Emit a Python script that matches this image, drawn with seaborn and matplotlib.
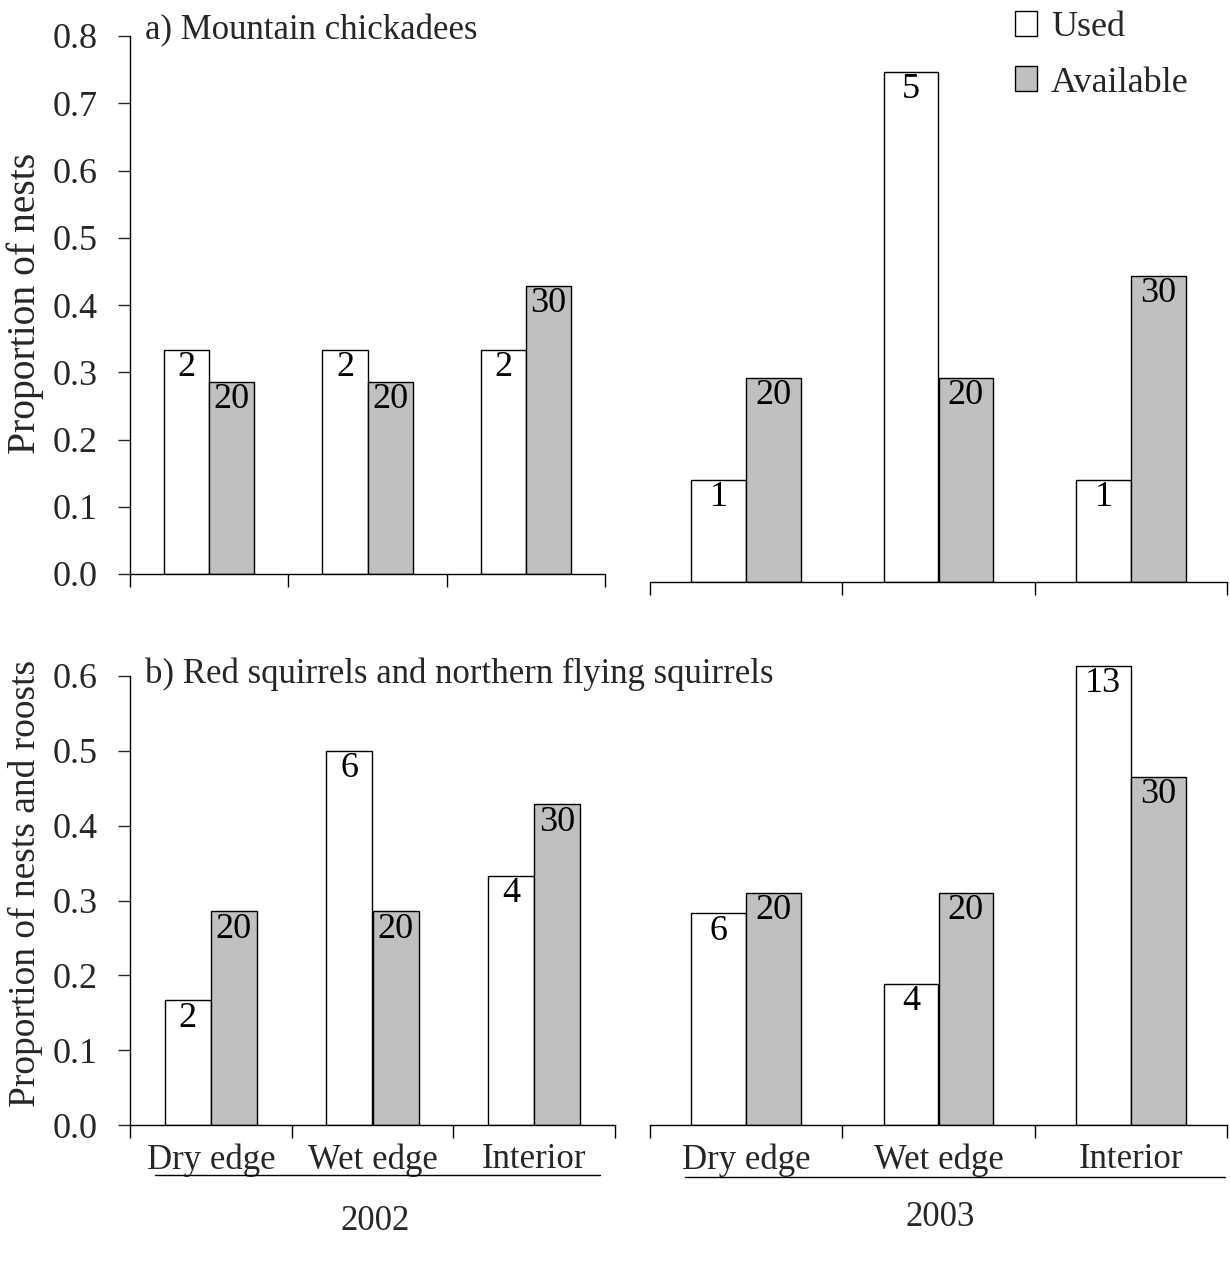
import numpy as np
import pandas as pd
import matplotlib
matplotlib.use("Agg")
import matplotlib.pyplot as plt
from matplotlib.patches import Patch
from matplotlib.lines import Line2D
from matplotlib.ticker import FormatStrFormatter
import seaborn as sns

# ---------------- data ----------------
habitats = ["Dry edge", "Wet edge", "Interior"]
hue_levels = ["Used", "Available"]

# a) Mountain chickadees
chick_2002_used = [2 / 6, 2 / 6, 2 / 6]
chick_2002_avail = [20 / 70, 20 / 70, 30 / 70]
chick_2002_used_n = [2, 2, 2]
chick_2002_avail_n = [20, 20, 30]

chick_2003_used = [1 / 7, 5 / 7, 1 / 7]
chick_2003_avail = [20 / 70, 20 / 70, 30 / 70]
chick_2003_used_n = [1, 5, 1]
chick_2003_avail_n = [20, 20, 30]

# b) Red squirrels and northern flying squirrels
sq_2002_used = [2 / 12, 6 / 12, 4 / 12]
sq_2002_avail = [20 / 70, 20 / 70, 30 / 70]
sq_2002_used_n = [2, 6, 4]
sq_2002_avail_n = [20, 20, 30]

sq_2003_used = [6 / 23, 4 / 23, 13 / 23]
sq_2003_avail = [20 / 70, 20 / 70, 30 / 70]
sq_2003_used_n = [6, 4, 13]
sq_2003_avail_n = [20, 20, 30]

years = ["2002", "2003"]
ylabels = ["Proportion of nests", "Proportion of nests and roosts"]
titles = ["a) Mountain chickadees", "b) Red squirrels and northern flying squirrels"]
yticks_top = [0.0, 0.1, 0.2, 0.3, 0.4, 0.5, 0.6, 0.7, 0.8]
yticks_bot = [0.0, 0.1, 0.2, 0.3, 0.4, 0.5, 0.6]

# ---------------- style ----------------
sns.set_theme(style="ticks")
plt.rcParams["font.family"] = ["Liberation Serif", "DejaVu Serif"]
plt.rcParams["axes.linewidth"] = 1.0
plt.rcParams["xtick.major.width"] = 1.0
plt.rcParams["ytick.major.width"] = 1.0

FS_TICK = 26
FS_NUM = 26
FS_TXT = 25
colors = {"Used": "#ffffff", "Available": "#c0c0c0"}

W, H = 1230, 1264
fig = plt.figure(figsize=(W / 100, H / 100), dpi=100)


def frac(left_px, right_px, bottom_px, top_px):
    return [left_px / W, 1 - bottom_px / H, (right_px - left_px) / W, (bottom_px - top_px) / H]


def make_df(used, avail):
    return pd.DataFrame({
        "habitat": habitats * 2,
        "kind": ["Used"] * 3 + ["Available"] * 3,
        "value": list(used) + list(avail),
    })


def draw(ax, used, avail, used_n, avail_n, ylim, yticks, show_y, bottom_labels):
    df = make_df(used, avail)
    sns.barplot(data=df, x="habitat", y="value", hue="kind", order=habitats,
                hue_order=hue_levels, palette=colors, width=0.57,
                edgecolor="black", linewidth=1.0, legend=False, ax=ax,
                errorbar=None, saturation=1)
    ax.set_xlim(-0.5, 2.5)
    ax.set_ylim(*ylim)
    ax.set_xlabel("")
    ax.set_ylabel("")
    # annotate counts inside bar tops
    for cont, ns in zip(ax.containers, [used_n, avail_n]):
        for patch, n in zip(cont.patches, ns):
            ax.annotate(str(n), (patch.get_x() + patch.get_width() / 2, patch.get_height()),
                        xytext=(0, -1), textcoords="offset points",
                        ha="center", va="top", fontsize=FS_NUM, color="black")
    ax.set_xticks([-0.5, 0.5, 1.5, 2.5])
    ax.set_xticklabels([])
    ax.tick_params(axis="x", which="major", direction="out", length=9.5, width=1, colors="black")
    if bottom_labels:
        ax.set_xticks([0, 1, 2], habitats, minor=True)
        ax.tick_params(axis="x", which="minor", length=0, pad=13, labelsize=FS_TXT)
    sns.despine(ax=ax, top=True, right=True, left=not show_y)
    if show_y:
        ax.set_yticks(yticks)
        ax.yaxis.set_major_formatter(FormatStrFormatter("%.1f"))
        ax.tick_params(axis="y", direction="out", length=9, width=1, labelsize=FS_TICK, pad=14)
    else:
        ax.set_yticks([])
    for sp in ax.spines.values():
        sp.set_color("black")
    ax.set_facecolor("none")


# axes positions (pixels)
ax_tl = fig.add_axes(frac(130, 605, 574, 36))
ax_tr = fig.add_axes(frac(650, 1227, 582, 582 - 0.8 * 714))
ax_bl = fig.add_axes(frac(130, 615, 1125, 676))
ax_br = fig.add_axes(frac(650, 1227, 1125, 1125 - 0.6 * 812))

draw(ax_tl, chick_2002_used, chick_2002_avail, chick_2002_used_n, chick_2002_avail_n,
     (0, 0.8), yticks_top, True, False)
draw(ax_tr, chick_2003_used, chick_2003_avail, chick_2003_used_n, chick_2003_avail_n,
     (0, 0.8), yticks_top, False, False)
draw(ax_bl, sq_2002_used, sq_2002_avail, sq_2002_used_n, sq_2002_avail_n,
     (0, 0.6), yticks_bot, True, True)
draw(ax_br, sq_2003_used, sq_2003_avail, sq_2003_used_n, sq_2003_avail_n,
     (0, 0.6), yticks_bot, False, True)

# y labels
fig.text(25 / W, 1 - 303 / H, ylabels[0], rotation=90, ha="center", va="center", fontsize=28.5)
fig.text(25 / W, 1 - 883 / H, ylabels[1], rotation=90, ha="center", va="center", fontsize=27)

# panel titles
fig.text(145 / W, 1 - 31 / H, titles[0], ha="left", va="center", fontsize=FS_TXT)
fig.text(145 / W, 1 - 674 / H, titles[1], ha="left", va="center", fontsize=FS_TXT)

# underlines and years
fig.add_artist(Line2D([155 / W, 600 / W], [1 - 1175 / H, 1 - 1175 / H], color="black", lw=1))
fig.add_artist(Line2D([685 / W, 1225 / W], [1 - 1177 / H, 1 - 1177 / H], color="black", lw=1))
fig.text(375 / W, 1 - 1222 / H, years[0], ha="center", va="center", fontsize=FS_TXT)
fig.text(940 / W, 1 - 1218 / H, years[1], ha="center", va="center", fontsize=FS_TXT)

# legend
handles = [Patch(facecolor=colors[k], edgecolor="black", linewidth=1.0) for k in hue_levels]
fig.legend(handles, hue_levels, loc="upper left", bbox_to_anchor=(1015 / W, 1 - 11 / H),
           frameon=False, fontsize=26, handlelength=0.62, handleheight=0.68,
           handletextpad=0.38, labelspacing=0.62, borderpad=0, borderaxespad=0)

fig.savefig("out.png", dpi=100, facecolor="white")
